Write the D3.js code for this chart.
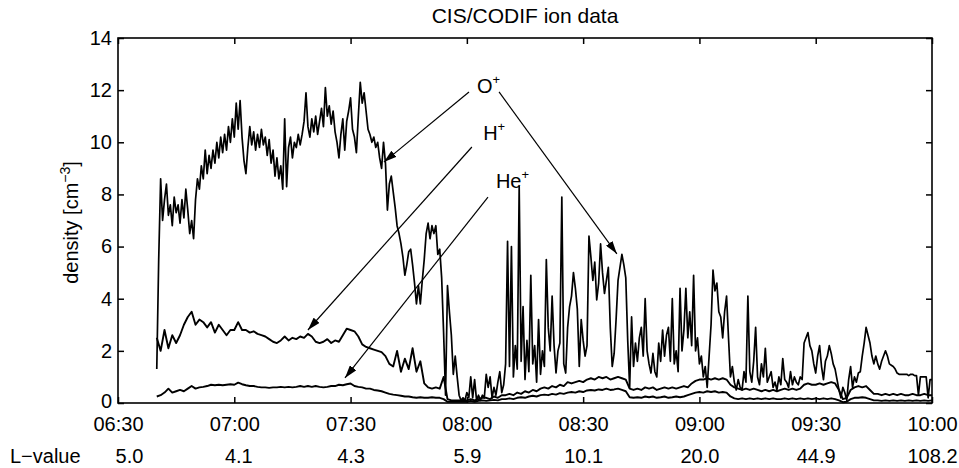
<!DOCTYPE html>
<html><head><meta charset="utf-8">
<script src="https://cdn.jsdelivr.net/npm/d3@7"></script>
<style>
body{margin:0;background:#fff}
text{font-family:"Liberation Sans",Arial,Helvetica,sans-serif;fill:#000}
</style>
</head><body>
<svg id="c" width="959" height="468"></svg>
<script>
// ---- data ----
const timeTicks = [0, 30, 60, 90, 120, 150, 180, 210];          // minutes after 06:30
const timeLabels = ["06:30","07:00","07:30","08:00","08:30","09:00","09:30","10:00"];
const lValues = ["5.0","4.1","4.3","5.9","10.1","20.0","44.9","108.2"];
const yTicks = [0, 2, 4, 6, 8, 10, 12, 14];
const seriesStart = 10;   // 06:40
const oStep = 0.5;        // minutes
const ionStep = 1;        // minutes

const oPlus = [
1.3,5.5,8.6,7.0,7.8,8.4,7.2,7.6,6.8,7.9,7.3,7.6,6.9,7.8,7.1,8.2,7.4,6.5,7.0,6.3,
7.8,8.6,8.2,9.1,8.6,9.7,8.8,9.5,9.0,9.7,9.2,10.0,9.4,10.2,9.6,10.3,9.7,10.6,10.0,10.9,10.2,
11.5,10.5,11.6,10.2,9.3,8.8,9.8,10.6,9.9,10.4,
9.7,10.3,9.8,10.5,9.9,10.2,9.5,10.1,9.2,9.7,
8.7,9.4,8.6,9.1,8.2,10.9,8.3,9.8,10.2,9.4,
10.0,9.8,10.3,9.9,
10.3,10.8,11.9,10.6,10.2,10.9,10.4,11.0,10.3,10.8,
11.3,10.6,12.1,11.0,11.4,10.7,11.2,10.4,10.0,9.4,
10.3,10.9,9.7,10.8,11.2,11.7,10.5,10.2,9.6,11.0,
12.3,11.5,11.9,11.2,10.5,10.3,10.0,10.2,9.8,10.0,9.4,9.0,10.0,9.2,
7.4,8.4,8.7,8.1,7.5,6.8,6.5,6.1,5.6,4.9,5.3,5.8,
5.9,5.3,4.6,3.8,4.5,3.8,4.7,5.5,6.5,6.9,
6.3,6.8,6.5,6.8,5.7,5.9,4.8,2.7,0.3,4.5,
3.5,2.6,1.1,1.8,1.0,0.3,0.1,0.2,0.1,0.4,
0.2,1.0,0.2,0.9,0.1,0.3,0.1,0.3,0.2,1.1,
0.6,1.0,0.2,0.6,0.3,0.8,1.2,0.4,0.7,1.5,
6.2,1.4,6.0,1.0,2.2,1.3,8.3,1.6,3.7,0.9,
2.4,1.2,4.9,1.5,2.2,0.8,3.2,1.1,2.0,1.4,
5.5,2.9,2.0,4.1,2.2,1.15,2.0,2.3,7.9,1.5,
1.15,2.9,3.7,4.1,5.0,4.4,3.6,1.4,3.2,2.4,
1.8,2.2,6.4,5.6,4.7,5.4,3.95,4.6,6.1,5.0,
4.2,4.7,5.2,2.9,1.4,1.9,3.2,4.7,5.2,5.7,
5.3,4.8,2.4,0.6,3.3,1.4,2.3,1.6,2.5,2.9,
1.8,4.0,2.0,1.5,1.15,1.9,1.2,1.0,2.3,1.6,
2.8,1.8,2.6,2.9,1.6,4.0,1.5,2.0,1.2,4.4,
2.0,2.8,4.4,2.5,3.5,2.2,4.9,2.0,2.5,1.5,
1.8,1.0,1.4,0.6,1.8,3.0,5.1,4.3,4.6,3.5,
3.3,2.5,3.5,4.1,2.5,1.0,1.4,0.8,0.5,0.9,
0.6,0.5,1.2,0.8,4.1,1.2,0.8,1.6,2.9,1.0,
0.7,1.5,1.0,2.1,0.8,1.0,1.2,0.6,0.8,0.5,
1.0,0.7,1.7,0.9,0.8,0.6,1.2,0.7,1.0,0.8,
0.7,1.0,0.9,2.3,2.5,2.7,2.2,2.0,1.5,1.15,
1.8,2.2,1.4,0.9,1.6,1.8,2.2,1.9,1.5,1.3,
0.9,0.5,0.2,0.6,0.4,0.1,0.9,1.4,0.6,1.0,
0.8,1.15,1.2,1.8,2.3,2.9,2.6,2.3,1.8,1.5,
1.8,1.5,1.3,1.6,1.8,2.0,1.8,1.5,1.45,1.4,
1.3,1.15,1.1,1.1,1.1,1.1,1.1,1.05,1.1,1.1,
1.05,1.05,0.3,1.0,1.0,1.0,1.0,0.2,0.9,0.9
];

const hPlus = [
2.5,2.0,2.8,2.1,2.6,2.3,2.6,3.0,3.3,3.5,
3.0,3.2,3.1,2.9,3.1,2.7,3.0,2.8,2.6,2.8,
2.8,3.1,2.8,2.8,2.7,2.75,2.65,2.6,2.55,2.45,
2.35,2.3,2.4,2.55,2.4,2.5,2.45,2.55,2.5,2.65,
2.55,2.35,2.3,2.35,2.45,2.3,2.4,2.35,2.6,2.85,
2.8,2.75,2.55,2.25,2.15,2.1,2.05,2.0,1.95,1.8,
1.5,1.4,2.0,1.2,1.7,1.3,2.1,1.2,1.6,0.75,
0.6,0.55,0.6,0.55,1.0,0.15,0.1,0.1,0.1,0.1,
0.1,0.15,0.1,0.15,0.2,0.2,0.15,0.25,0.2,0.3,
0.3,0.35,0.3,0.4,0.35,0.45,0.4,0.5,0.45,0.55,
0.6,0.55,0.65,0.6,0.7,0.65,0.8,0.75,0.8,0.85,
0.8,0.9,0.95,0.9,1.0,0.95,1.0,0.9,0.95,1.0,
0.95,0.9,0.55,0.5,0.55,0.5,0.6,0.55,0.6,0.5,
0.55,0.6,0.55,0.6,0.55,0.6,0.65,0.6,0.75,0.85,
0.9,0.9,0.95,0.9,0.95,0.9,0.95,0.9,0.7,0.6,
0.55,0.5,0.55,0.5,0.55,0.5,0.45,0.5,0.45,0.5,
0.45,0.5,0.55,0.5,0.55,0.5,0.55,0.7,0.75,0.7,
0.7,0.75,0.7,0.75,0.8,0.75,0.5,0.15,0.2,0.5,
0.6,0.65,0.6,0.65,0.5,0.35,0.35,0.3,0.35,0.3,
0.35,0.3,0.35,0.3,0.3,0.35,0.3,0.3,0.35,0.3,0.3
];

const hePlus = [
0.25,0.3,0.4,0.55,0.4,0.45,0.5,0.45,0.55,0.65,
0.55,0.6,0.62,0.65,0.7,0.68,0.7,0.68,0.7,0.72,
0.7,0.78,0.72,0.68,0.65,0.65,0.62,0.6,0.6,0.58,
0.6,0.6,0.62,0.6,0.62,0.6,0.62,0.65,0.62,0.65,
0.62,0.65,0.62,0.6,0.62,0.65,0.65,0.7,0.68,0.72,
0.75,0.65,0.62,0.6,0.55,0.55,0.5,0.48,0.45,0.4,
0.35,0.32,0.3,0.28,0.25,0.25,0.22,0.2,0.22,0.2,
0.2,0.22,0.2,0.2,0.15,0.05,0.05,0.05,0.05,0.05,
0.05,0.08,0.05,0.08,0.1,0.08,0.1,0.12,0.1,0.15,
0.15,0.18,0.15,0.2,0.22,0.2,0.25,0.28,0.25,0.3,
0.32,0.3,0.35,0.32,0.38,0.35,0.4,0.42,0.4,0.45,
0.42,0.48,0.5,0.48,0.52,0.5,0.55,0.5,0.52,0.55,
0.5,0.45,0.22,0.2,0.22,0.2,0.25,0.22,0.25,0.2,
0.22,0.25,0.2,0.22,0.25,0.22,0.25,0.3,0.35,0.4,
0.42,0.4,0.45,0.42,0.45,0.4,0.42,0.4,0.25,0.18,
0.15,0.18,0.15,0.18,0.15,0.18,0.15,0.18,0.15,0.18,
0.15,0.15,0.18,0.15,0.18,0.15,0.18,0.15,0.18,0.15,
0.18,0.15,0.18,0.15,0.18,0.15,0.1,0.03,0.05,0.15,
0.2,0.2,0.22,0.2,0.15,0.1,0.1,0.08,0.1,0.08,
0.1,0.08,0.1,0.08,0.1,0.08,0.1,0.08,0.1,0.08,0.1
];

// annotation labels and arrows, in data coordinates (minutes after 06:30, density)
const ionLabels = [
  {base: "O",  t: 92.6, v: 11.89},
  {base: "H",  t: 94.2, v: 10.09},
  {base: "He", t: 97.5, v: 8.25}
];
const arrows = [
  {from: [90.55, 11.93], to: [68.6, 9.24]},
  {from: [98.3, 11.93],  to: [128.7, 5.72]},
  {from: [91.3, 9.82],   to: [49.0, 2.80]},
  {from: [95.45, 7.90],  to: [58.56, 0.96]}
];

// ---- drawing ----
const W = 959, H = 468;
const m = {left: 118, right: 932, top: 38, bottom: 403};
const svg = d3.select("#c");
svg.append("rect").attr("width", W).attr("height", H).attr("fill", "#fff");

const x = d3.scaleLinear().domain([0, 210]).range([m.left, m.right]);
const y = d3.scaleLinear().domain([0, 14]).range([m.bottom, m.top]);

const FS = 20;

// axes
const gB = svg.append("g").attr("transform", `translate(0,${m.bottom})`)
  .call(d3.axisBottom(x).tickValues(timeTicks).tickSize(-6).tickSizeOuter(0).tickPadding(14)
    .tickFormat((d, i) => timeLabels[i]));
const gT = svg.append("g").attr("transform", `translate(0,${m.top})`)
  .call(d3.axisTop(x).tickValues(timeTicks).tickSize(-6).tickSizeOuter(0).tickFormat(""));
const gL = svg.append("g").attr("transform", `translate(${m.left},0)`)
  .call(d3.axisLeft(y).tickValues(yTicks).tickSize(-6).tickSizeOuter(0).tickPadding(6));
const gR = svg.append("g").attr("transform", `translate(${m.right},0)`)
  .call(d3.axisRight(y).tickValues(yTicks).tickSize(-6).tickSizeOuter(0).tickFormat(""));
const gLv = svg.append("g").attr("transform", `translate(0,${m.bottom})`)
  .call(d3.axisBottom(x).tickValues(timeTicks).tickSize(0).tickSizeOuter(0).tickPadding(46)
    .tickFormat((d, i) => lValues[i]));
gLv.selectAll(".tick line").remove();
gLv.selectAll(".tick text").filter((d, i) => i === 0).attr("dx", 11);
gLv.selectAll(".tick text").filter((d, i) => i === 1).attr("dx", 4);

[gB, gT, gL, gR, gLv].forEach(g => {
  g.select(".domain").remove();
  g.selectAll(".tick line").attr("stroke", "#000").attr("stroke-width", 1.5);
  g.selectAll("text").attr("font-size", FS)
    .attr("font-family", '"Liberation Sans", Arial, Helvetica, sans-serif').attr("fill", "#000");
});
// keep the "0" label just clear of the time labels
gL.selectAll(".tick text").filter(d => d === 0).attr("dy", "0.22em");

svg.append("text").attr("x", 10).attr("y", 463).attr("font-size", FS).text("L\u2212value");

// frame
svg.append("rect").attr("x", m.left).attr("y", m.top)
  .attr("width", m.right - m.left).attr("height", m.bottom - m.top)
  .attr("fill", "none").attr("stroke", "#000").attr("stroke-width", 1.6);

// title
svg.append("text").attr("x", (m.left + m.right) / 2).attr("y", 23)
  .attr("text-anchor", "middle").attr("font-size", 21).text("CIS/CODIF ion data");

// y label
const yl = svg.append("text").attr("transform", `translate(78,${(m.top + m.bottom) / 2 + 2}) rotate(-90)`)
  .attr("text-anchor", "middle").attr("font-size", FS);
yl.append("tspan").text("density [cm");
yl.append("tspan").attr("dy", -8).attr("font-size", 14).text("\u22123");
yl.append("tspan").attr("dy", 8).text("]");

// series
const line = d3.line().x(d => x(d.t)).y(d => y(d.v));
function pts(arr, step) { return arr.map((v, i) => ({t: seriesStart + i * step, v})); }
const plot = svg.append("g");
[[hePlus, ionStep, 1.9], [hPlus, ionStep, 1.9], [oPlus, oStep, 1.7]].forEach(([arr, step, sw]) => {
  plot.append("path").datum(pts(arr, step)).attr("d", line)
    .attr("fill", "none").attr("stroke", "#000").attr("stroke-width", sw)
    .attr("stroke-linejoin", "round");
});

// arrows
svg.append("defs").append("marker").attr("id", "ah")
  .attr("viewBox", "0 0 13 8").attr("refX", 13).attr("refY", 4)
  .attr("markerWidth", 13).attr("markerHeight", 8).attr("markerUnits", "userSpaceOnUse")
  .attr("orient", "auto")
  .append("path").attr("d", "M0,0 L13,4 L0,8 Z").attr("fill", "#000");
arrows.forEach(a => {
  svg.append("line")
    .attr("x1", x(a.from[0])).attr("y1", y(a.from[1]))
    .attr("x2", x(a.to[0])).attr("y2", y(a.to[1]))
    .attr("stroke", "#000").attr("stroke-width", 1.2).attr("marker-end", "url(#ah)");
});

// ion labels
ionLabels.forEach(l => {
  const t = svg.append("text").attr("x", x(l.t)).attr("y", y(l.v)).attr("font-size", FS);
  t.append("tspan").text(l.base);
  t.append("tspan").attr("dy", -9).attr("font-size", 13).text("+");
});
</script>
</body></html>
